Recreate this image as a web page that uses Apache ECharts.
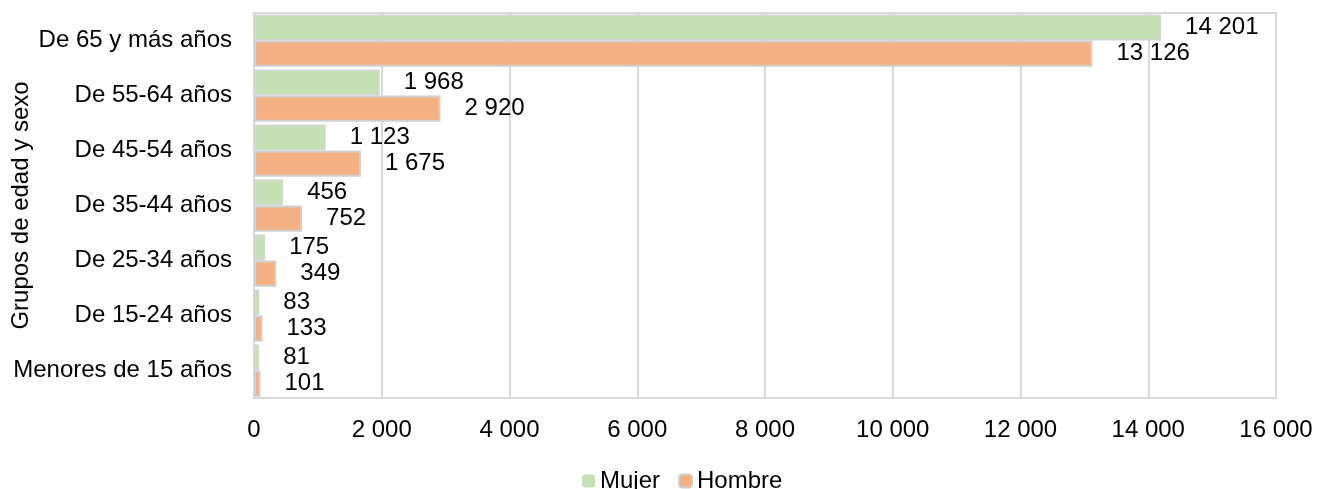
<!DOCTYPE html>
<html>
<head>
<meta charset="utf-8">
<script src="https://cdn.jsdelivr.net/npm/echarts@6/dist/echarts.min.js"></script>
<style>html,body{margin:0;padding:0;background:#fff}#c{width:1317px;height:489px}</style>
</head>
<body>
<div id="c"></div>
<script>
const categories = ["De 65 y más años","De 55-64 años","De 45-54 años","De 35-44 años","De 25-34 años","De 15-24 años","Menores de 15 años"];
const mujer = [14201, 1968, 1123, 456, 175, 83, 81];
const hombre = [13126, 2920, 1675, 752, 349, 133, 101];
const xTicks = [0, 2000, 4000, 6000, 8000, 10000, 12000, 14000, 16000];

const fmt = v => String(v).replace(/\B(?=(\d{3})+(?!\d))/g, ' ');
const FONT = '"Liberation Sans", Arial, sans-serif';
const FS = 24;
const chart = echarts.init(document.getElementById('c'), null, {renderer: 'canvas'});
const lbl = {show: true, position: 'right', distance: 24, color: '#000', fontSize: FS, fontFamily: FONT, formatter: p => fmt(p.value)};
chart.setOption({
  animation: false,
  textStyle: {fontFamily: FONT},
  grid: {left: 254, right: 41, top: 13, bottom: 91, show: true, borderColor: '#d9d9d9', borderWidth: 2, containLabel: false, outerBoundsMode: 'none'},
  legend: {
    top: 464, left: 577, itemWidth: 13, itemHeight: 13, itemGap: 18,
    textStyle: {fontSize: FS, color: '#000', fontFamily: FONT},
    data: [{name: 'Mujer', itemStyle: {borderWidth: 0}}, {name: 'Hombre', itemStyle: {borderWidth: 2, borderColor: '#d0d0d0'}}]
  },
  xAxis: {
    type: 'value', min: xTicks[0], max: xTicks[xTicks.length - 1], interval: 2000,
    axisLine: {show: false}, axisTick: {show: false},
    splitLine: {lineStyle: {color: '#d9d9d9', width: 2}},
    axisLabel: {fontSize: FS, color: '#000', margin: 20, fontFamily: FONT, formatter: v => fmt(v)}
  },
  yAxis: {
    type: 'category', data: categories, inverse: true,
    axisLine: {show: true, lineStyle: {color: '#d9d9d9', width: 2}}, axisTick: {show: false},
    axisLabel: {fontSize: FS, color: '#000', margin: 22, fontFamily: FONT},
    name: 'Grupos de edad y sexo', nameLocation: 'middle', nameGap: 221, nameRotate: 90, nameMoveOverlap: false,
    nameTextStyle: {fontSize: FS, color: '#000', fontFamily: FONT}
  },
  series: [
    {name: 'Mujer', type: 'bar', data: mujer, barGap: '0%', barCategoryGap: '5%',
     itemStyle: {color: '#c5e0b4', borderColor: '#d6d6d6', borderWidth: 1.5}, label: lbl},
    {name: 'Hombre', type: 'bar', data: hombre, barGap: '0%', barCategoryGap: '5%',
     itemStyle: {color: '#f4b183', borderColor: '#d0d0d0', borderWidth: 2}, label: lbl}
  ]
});
</script>
</body>
</html>
